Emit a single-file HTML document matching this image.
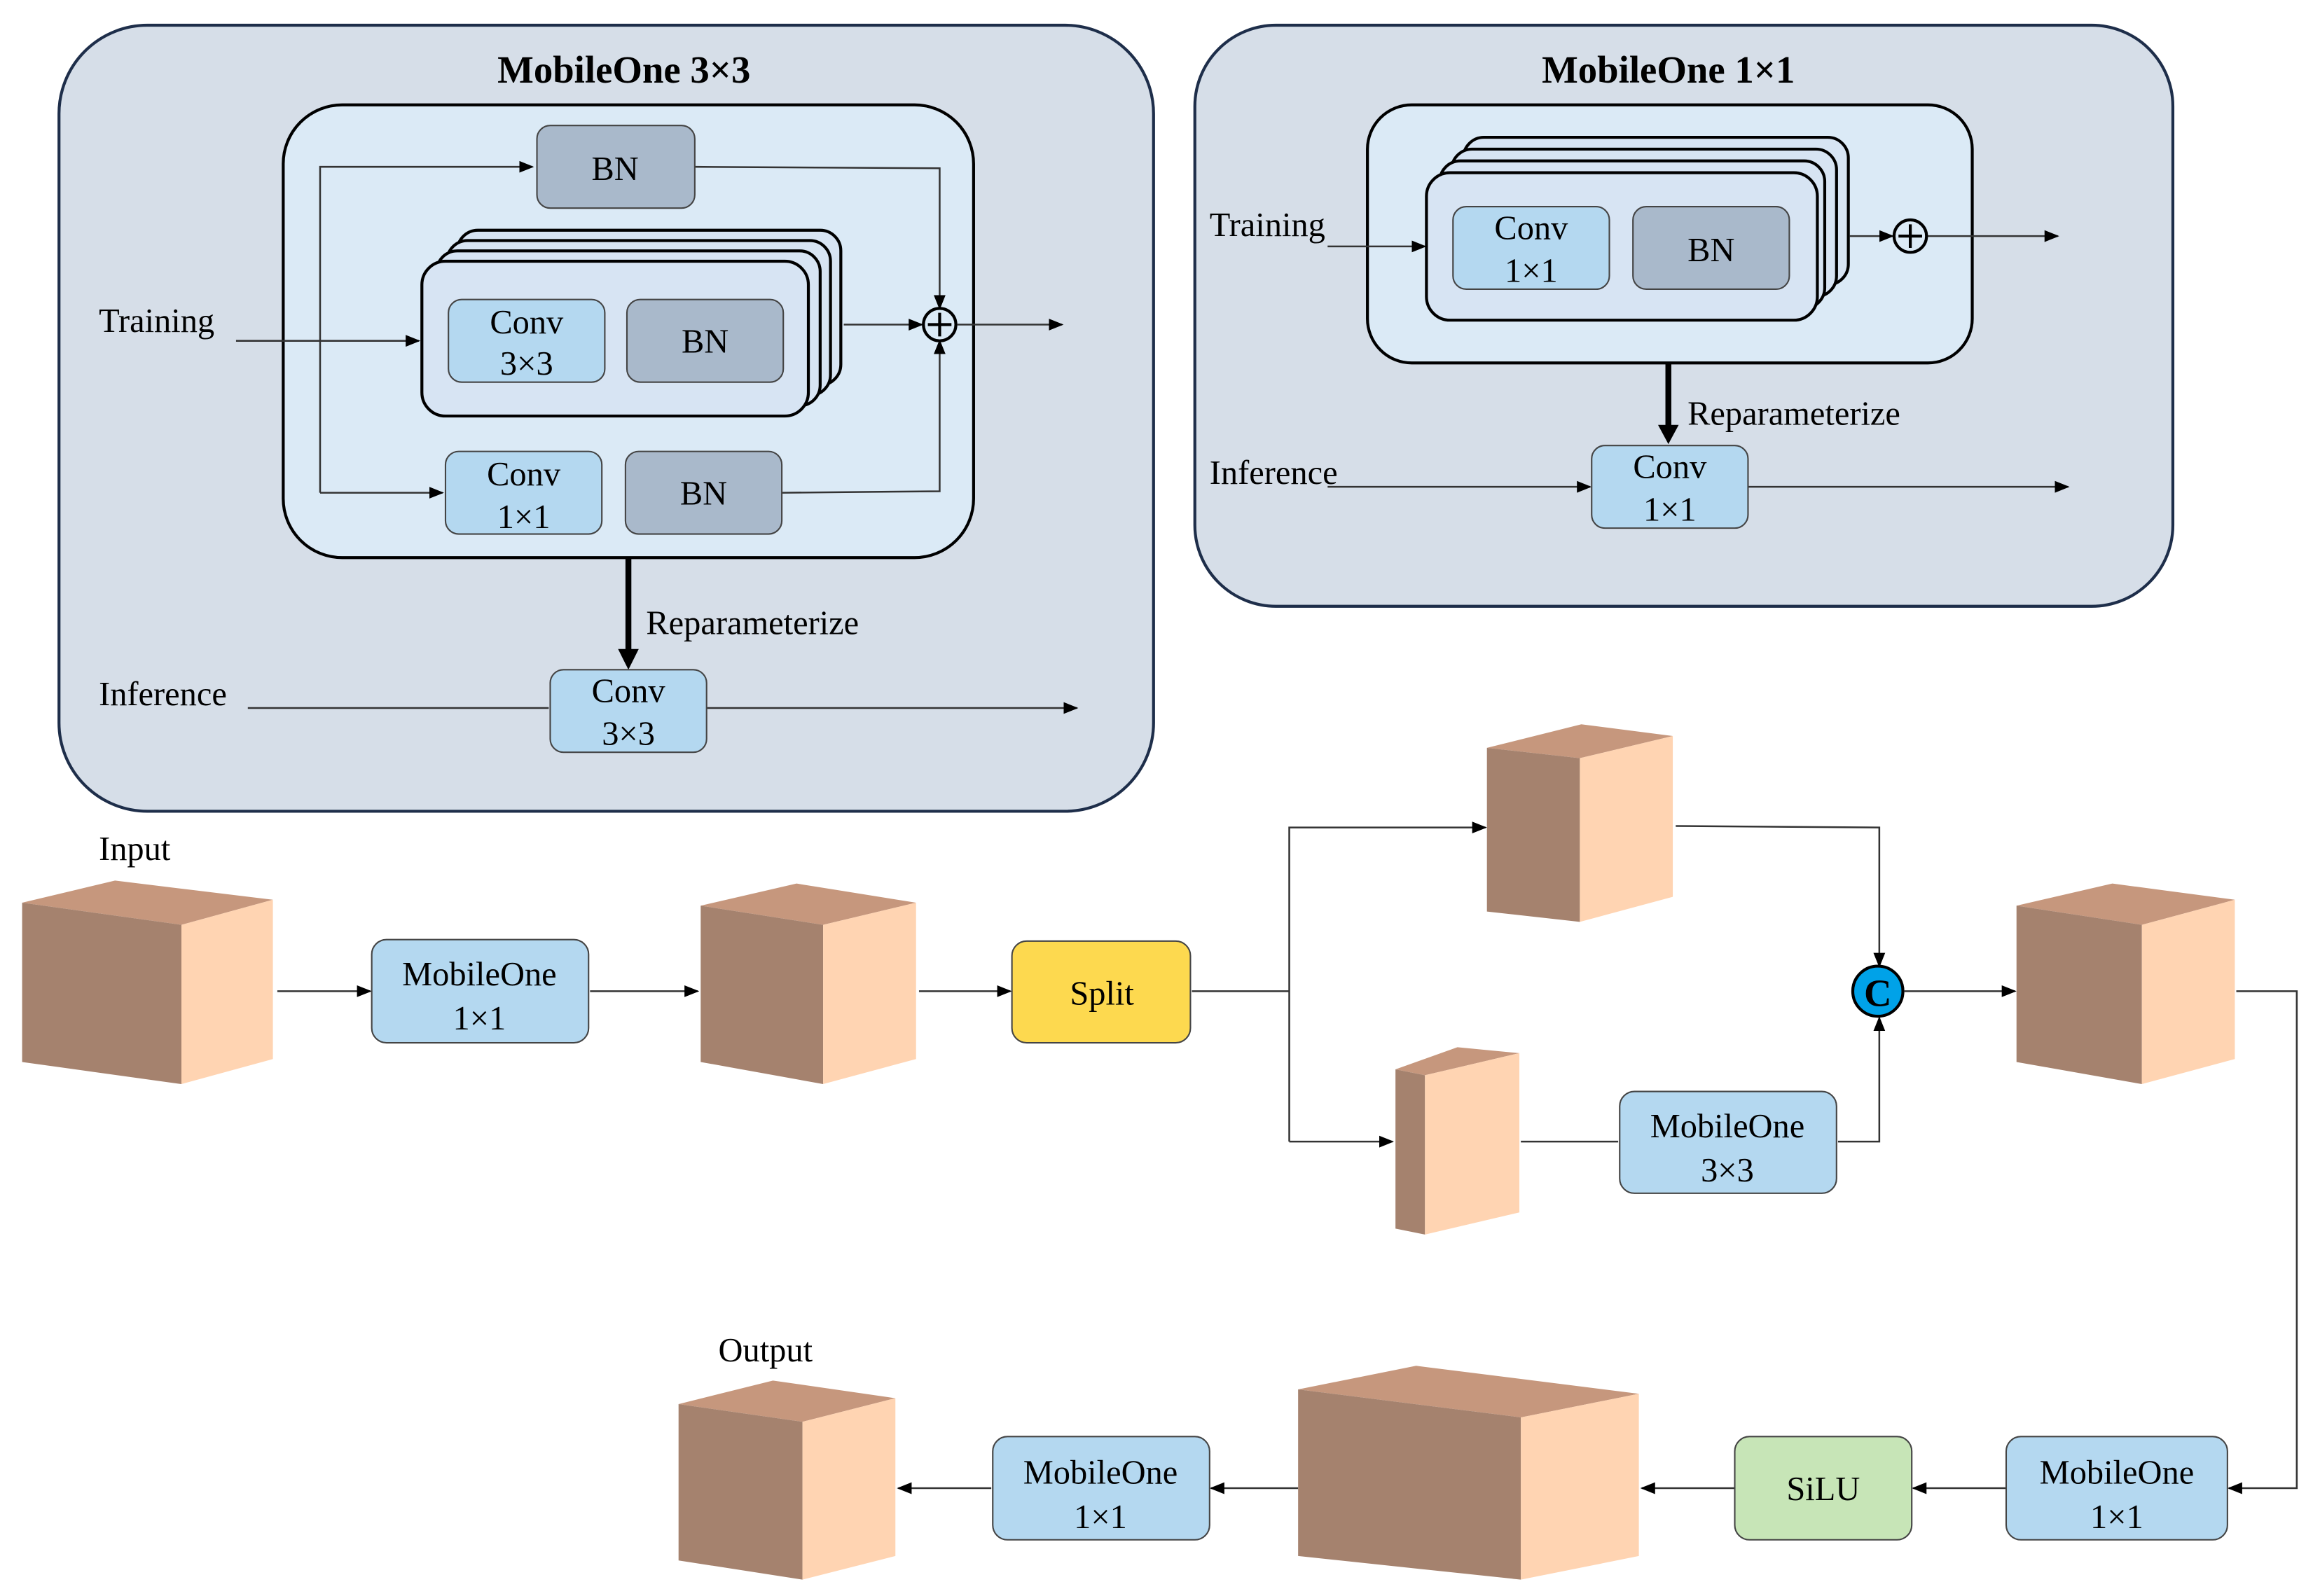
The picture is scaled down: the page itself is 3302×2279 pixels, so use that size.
<!DOCTYPE html>
<html><head><meta charset="utf-8"><style>html,body{margin:0;padding:0;background:#fff}svg{display:block}svg text{font-family:"Liberation Serif",serif}</style></head>
<body>
<svg width="3302" height="2279" viewBox="0 0 1568 1082" xmlns="http://www.w3.org/2000/svg" font-size="23">
<defs>
<marker id="a" markerWidth="10" markerHeight="10" refX="9" refY="5" orient="auto" markerUnits="userSpaceOnUse"><path d="M0,1 L10,5 L0,9 z" fill="#000"/></marker>
</defs>
<rect width="1568" height="1082" fill="#fff"/>

<!-- Panel 1 -->
<rect x="40" y="17" width="742" height="533" rx="60" fill="#d6dee8" stroke="#1e2e4a" stroke-width="2"/>
<text x="423" y="56" text-anchor="middle" font-weight="bold" font-size="26">MobileOne 3×3</text>
<rect x="192" y="71" width="468" height="307" rx="40" fill="#dbeaf6" stroke="#000" stroke-width="2"/>
<g fill="none" stroke="#333" stroke-width="1.2">
<path d="M217,334 V113 H361" marker-end="url(#a)"/>
<path d="M217,334 H300" marker-end="url(#a)"/>
<path d="M160,231 H284" marker-end="url(#a)"/>
<path d="M471,113 L637,114 V209" marker-end="url(#a)"/>
<path d="M530,334 L637,333 V231" marker-end="url(#a)"/>
<path d="M572,220 H625" marker-end="url(#a)"/>
<path d="M649,220 H720" marker-end="url(#a)"/>
<path d="M168,480 H372"/>
<path d="M479,480 H730" marker-end="url(#a)"/>
</g>
<g fill="#d7e4f3" stroke="#000" stroke-width="2">
<rect x="310" y="156" width="260" height="105" rx="14"/>
<rect x="303" y="163" width="260" height="105" rx="14"/>
<rect x="296" y="170" width="260" height="105" rx="14"/>
<rect x="286" y="177" width="262" height="105" rx="16"/>
</g>
<rect x="304" y="203" width="106" height="56" rx="9" fill="#b4d8f0" stroke="#444" stroke-width="1"/>
<text x="357" y="226" text-anchor="middle">Conv</text><text x="357" y="254" text-anchor="middle">3×3</text>
<rect x="425" y="203" width="106" height="56" rx="9" fill="#a9b9cb" stroke="#444" stroke-width="1"/>
<text x="478" y="239" text-anchor="middle">BN</text>
<rect x="364" y="85" width="107" height="56" rx="9" fill="#a9b9cb" stroke="#444" stroke-width="1"/>
<text x="417" y="122" text-anchor="middle">BN</text>
<rect x="302" y="306" width="106" height="56" rx="9" fill="#b4d8f0" stroke="#444" stroke-width="1"/>
<text x="355" y="329" text-anchor="middle">Conv</text><text x="355" y="358" text-anchor="middle">1×1</text>
<rect x="424" y="306" width="106" height="56" rx="9" fill="#a9b9cb" stroke="#444" stroke-width="1"/>
<text x="477" y="342" text-anchor="middle">BN</text>
<circle cx="637" cy="220" r="11" fill="#dbeaf6" stroke="#000" stroke-width="2"/>
<path d="M637,212 V228 M629,220 H645" stroke="#000" stroke-width="2"/>
<text x="67" y="225">Training</text>
<text x="67" y="478">Inference</text>
<line x1="426" y1="378" x2="426" y2="442" stroke="#000" stroke-width="4"/>
<path d="M419,440 L433,440 L426,454 z" fill="#000"/>
<text x="438" y="430">Reparameterize</text>
<rect x="373" y="454" width="106" height="56" rx="9" fill="#b4d8f0" stroke="#444" stroke-width="1"/>
<text x="426" y="476" text-anchor="middle">Conv</text><text x="426" y="505" text-anchor="middle">3×3</text>

<!-- Panel 2 -->
<rect x="810" y="17" width="663" height="394" rx="55" fill="#d6dee8" stroke="#1e2e4a" stroke-width="2"/>
<text x="1131" y="56" text-anchor="middle" font-weight="bold" font-size="26">MobileOne 1×1</text>
<rect x="927" y="71" width="410" height="175" rx="30" fill="#dbeaf6" stroke="#000" stroke-width="2"/>
<g fill="#d7e4f3" stroke="#000" stroke-width="2">
<rect x="992" y="93" width="261" height="100" rx="14"/>
<rect x="984" y="101" width="261" height="100" rx="14"/>
<rect x="976" y="109" width="261" height="100" rx="14"/>
<rect x="967" y="117" width="265" height="100" rx="16"/>
</g>
<rect x="985" y="140" width="106" height="56" rx="9" fill="#b4d8f0" stroke="#444" stroke-width="1"/>
<text x="1038" y="162" text-anchor="middle">Conv</text><text x="1038" y="191" text-anchor="middle">1×1</text>
<rect x="1107" y="140" width="106" height="56" rx="9" fill="#a9b9cb" stroke="#444" stroke-width="1"/>
<text x="1160" y="177" text-anchor="middle">BN</text>
<g fill="none" stroke="#333" stroke-width="1.2">
<path d="M900,167 H966" marker-end="url(#a)"/>
<path d="M1254,160 H1283" marker-end="url(#a)"/>
<path d="M1306,160 H1395" marker-end="url(#a)"/>
<path d="M900,330 H1078" marker-end="url(#a)"/>
<path d="M1185,330 H1402" marker-end="url(#a)"/>
</g>
<circle cx="1295" cy="160" r="11" fill="#dbeaf6" stroke="#000" stroke-width="2"/>
<path d="M1295,152 V168 M1287,160 H1303" stroke="#000" stroke-width="2"/>
<text x="820" y="160">Training</text>
<text x="820" y="328">Inference</text>
<line x1="1131" y1="246" x2="1131" y2="290" stroke="#000" stroke-width="4"/>
<path d="M1124,288 L1138,288 L1131,301 z" fill="#000"/>
<text x="1144" y="288">Reparameterize</text>
<rect x="1079" y="302" width="106" height="56" rx="9" fill="#b4d8f0" stroke="#444" stroke-width="1"/>
<text x="1132" y="324" text-anchor="middle">Conv</text><text x="1132" y="353" text-anchor="middle">1×1</text>

<g fill="none" stroke="#333" stroke-width="1.2">
<path d="M188,672 H251" marker-end="url(#a)"/>
<path d="M400,672 H473" marker-end="url(#a)"/>
<path d="M623,672 H685" marker-end="url(#a)"/>
<path d="M808,672 H874"/>
<path d="M874,774 V561 H1007" marker-end="url(#a)"/>
<path d="M874,774 H944" marker-end="url(#a)"/>
<path d="M1136,560 L1274,561 V655" marker-end="url(#a)"/>
<path d="M1031,774 H1097"/>
<path d="M1246,774 H1274 V690" marker-end="url(#a)"/>
<path d="M1291,672 H1366" marker-end="url(#a)"/>
<path d="M1516,672 H1557 V1009 H1511" marker-end="url(#a)"/>
<path d="M1360,1009 H1297" marker-end="url(#a)"/>
<path d="M1176,1009 H1113" marker-end="url(#a)"/>
<path d="M880,1009 H821" marker-end="url(#a)"/>
<path d="M672,1009 H609" marker-end="url(#a)"/>
</g>

<g>
<polygon points="15,612 78,597 185,610 123,627" fill="#c6977d"/>
<polygon points="15,612 123,627 123,735 15,720" fill="#a5826e"/>
<polygon points="123,627 185,610 185,718 123,735" fill="#ffd4b2"/>

<polygon points="475,614 540,599 621,612 558,627" fill="#c6977d"/>
<polygon points="475,614 558,627 558,735 475,720" fill="#a5826e"/>
<polygon points="558,627 621,612 621,718 558,735" fill="#ffd4b2"/>

<polygon points="1008,507 1072,491 1134,499 1071,514" fill="#c6977d"/>
<polygon points="1008,507 1071,514 1071,625 1008,618" fill="#a5826e"/>
<polygon points="1071,514 1134,499 1134,608 1071,625" fill="#ffd4b2"/>

<polygon points="1367,614 1432,599 1515,610 1452,627" fill="#c6977d"/>
<polygon points="1367,614 1452,627 1452,735 1367,720" fill="#a5826e"/>
<polygon points="1452,627 1515,610 1515,718 1452,735" fill="#ffd4b2"/>

<polygon points="946,725 988,710 1030,714 966,729" fill="#c6977d"/>
<polygon points="946,725 966,729 966,837 946,833" fill="#a5826e"/>
<polygon points="966,729 1030,714 1030,822 966,837" fill="#ffd4b2"/>

<polygon points="880,942 960,926 1111,945 1031,961" fill="#c6977d"/>
<polygon points="880,942 1031,961 1031,1071 880,1055" fill="#a5826e"/>
<polygon points="1031,961 1111,945 1111,1055 1031,1071" fill="#ffd4b2"/>

<polygon points="460,952 524,936 607,948 544,964" fill="#c6977d"/>
<polygon points="460,952 544,964 544,1071 460,1058" fill="#a5826e"/>
<polygon points="544,964 607,948 607,1055 544,1071" fill="#ffd4b2"/>
</g>

<text x="67" y="583">Input</text>
<text x="487" y="923">Output</text>

<rect x="252" y="637" width="147" height="70" rx="10" fill="#b4d8f0" stroke="#444" stroke-width="1"/>
<text x="325" y="668" text-anchor="middle">MobileOne</text><text x="325" y="698" text-anchor="middle">1×1</text>
<rect x="686" y="638" width="121" height="69" rx="10" fill="#fdd94f" stroke="#444" stroke-width="1"/>
<text x="747" y="681" text-anchor="middle">Split</text>
<rect x="1098" y="740" width="147" height="69" rx="10" fill="#b4d8f0" stroke="#444" stroke-width="1"/>
<text x="1171" y="771" text-anchor="middle">MobileOne</text><text x="1171" y="801" text-anchor="middle">3×3</text>
<circle cx="1273" cy="672" r="17" fill="#00a2e8" stroke="#000" stroke-width="2"/>
<text x="1273" y="682" text-anchor="middle" font-weight="bold" font-size="26">C</text>
<rect x="1360" y="974" width="150" height="70" rx="10" fill="#b4d8f0" stroke="#444" stroke-width="1"/>
<text x="1435" y="1006" text-anchor="middle">MobileOne</text><text x="1435" y="1036" text-anchor="middle">1×1</text>
<rect x="1176" y="974" width="120" height="70" rx="10" fill="#c7e5b7" stroke="#444" stroke-width="1"/>
<text x="1236" y="1017" text-anchor="middle">SiLU</text>
<rect x="673" y="974" width="147" height="70" rx="10" fill="#b4d8f0" stroke="#444" stroke-width="1"/>
<text x="746" y="1006" text-anchor="middle">MobileOne</text><text x="746" y="1036" text-anchor="middle">1×1</text>
</svg>
</body></html>
